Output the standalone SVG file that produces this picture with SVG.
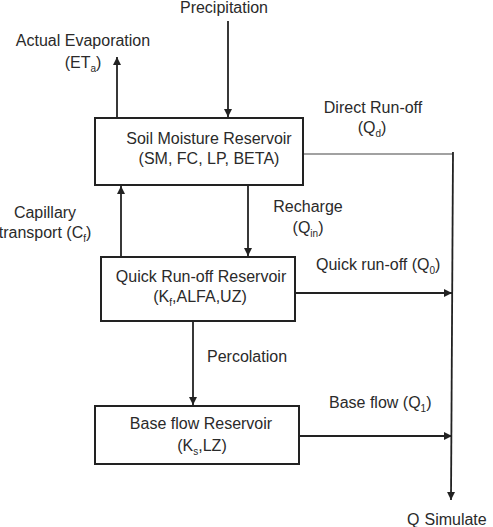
<svg xmlns="http://www.w3.org/2000/svg" width="493" height="527" viewBox="0 0 493 527">
<style>
text{font-family:"Liberation Sans",Arial,sans-serif;font-size:16px;fill:#2a2a2a}
.m{text-anchor:middle}
.s{font-size:10px}
.box{fill:#fff;stroke:#222;stroke-width:2}
.ln{stroke:#222;stroke-width:1.8;fill:none}
.thin{stroke:#444;stroke-width:1.2;fill:none}
</style>
<defs>
<marker id="ah" viewBox="0 0 10 10" refX="10" refY="5" markerWidth="9" markerHeight="8" markerUnits="userSpaceOnUse" orient="auto">
<path d="M0,0 L10,5 L0,10 z" fill="#222"/>
</marker>
</defs>
<rect width="493" height="527" fill="#fff"/>
<g id="connectors">
<line class="ln" x1="228" y1="21" x2="228" y2="117" marker-end="url(#ah)"/>
<line class="ln" x1="117" y1="118" x2="117" y2="57" marker-end="url(#ah)"/>
<line class="ln" x1="121" y1="257" x2="121" y2="186" marker-end="url(#ah)"/>
<line class="ln" x1="248" y1="185" x2="248" y2="256" marker-end="url(#ah)"/>
<line class="ln" x1="193" y1="321" x2="193" y2="405" marker-end="url(#ah)"/>
<line class="ln" x1="295" y1="293" x2="452" y2="293" marker-end="url(#ah)"/>
<line class="ln" x1="299" y1="436" x2="452" y2="436" marker-end="url(#ah)"/>
<line class="thin" x1="303" y1="154" x2="453" y2="154"/>
<line class="ln" x1="453" y1="152" x2="451" y2="500" marker-end="url(#ah)"/>
</g>
<g id="soil">
<rect class="box" x="95" y="118" width="208" height="67"/>
<text class="m" x="209" y="144">Soil Moisture Reservoir</text>
<text class="m" x="209" y="164">(SM, FC, LP, BETA)</text>
</g>
<g id="quick">
<rect class="box" x="101" y="257" width="194" height="64"/>
<text class="m" x="201" y="282">Quick Run-off Reservoir</text>
<text class="m" x="200" y="302">(K<tspan class="s" dy="4">f</tspan><tspan dy="-4">,ALFA,UZ)</tspan></text>
</g>
<g id="base">
<rect class="box" x="95" y="406" width="204" height="58"/>
<text class="m" x="201" y="429">Base flow Reservoir</text>
<text class="m" x="202" y="451">(K<tspan class="s" dy="4">s</tspan><tspan dy="-4">,LZ)</tspan></text>
</g>
<g id="labels">
<text class="m" x="224" y="13">Precipitation</text>
<text class="m" x="83" y="46">Actual Evaporation</text>
<text class="m" x="83" y="68">(ET<tspan class="s" dy="4">a</tspan><tspan dy="-4">)</tspan></text>
<text class="m" x="373" y="113">Direct Run-off</text>
<text class="m" x="372" y="133">(Q<tspan class="s" dy="4">d</tspan><tspan dy="-4">)</tspan></text>
<text class="m" x="45" y="218">Capillary</text>
<text class="m" x="45" y="238">transport (C<tspan class="s" dy="4">f</tspan><tspan dy="-4">)</tspan></text>
<text class="m" x="308" y="212">Recharge</text>
<text class="m" x="308" y="233">(Q<tspan class="s" dy="4">in</tspan><tspan dy="-4">)</tspan></text>
<text x="316" y="270">Quick run-off (Q<tspan class="s" dy="4">0</tspan><tspan dy="-4">)</tspan></text>
<text x="207" y="362">Percolation</text>
<text x="329" y="408">Base flow (Q<tspan class="s" dy="4">1</tspan><tspan dy="-4">)</tspan></text>
<text x="407" y="525">Q<tspan dx="5">Simulate</tspan></text>
</g>
</svg>
